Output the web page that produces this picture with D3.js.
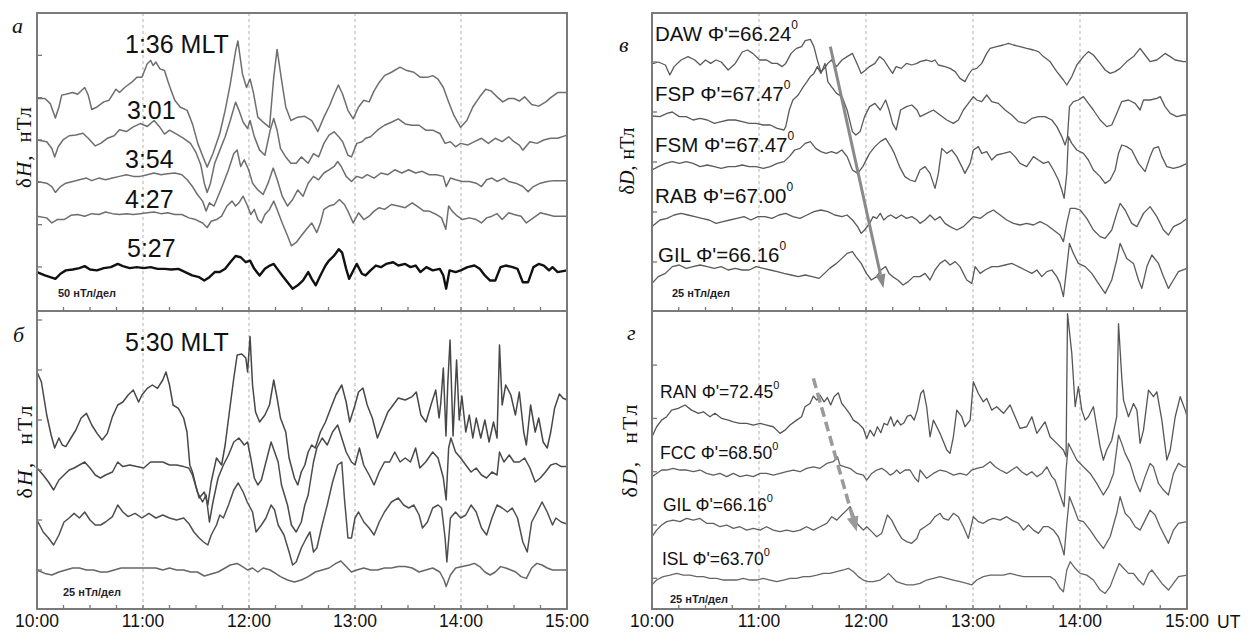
<!DOCTYPE html>
<html><head><meta charset="utf-8">
<script src="https://cdn.jsdelivr.net/npm/d3@7"></script>
<style>body{margin:0;background:#fff}svg{display:block}</style>
</head><body>
<svg id="c" width="1250" height="636"></svg>
<script>
// time in minutes after 10:00 UT, values in nT (with trace offsets)
const xTickLabels = ["10:00","11:00","12:00","13:00","14:00","15:00"];
const hourMinutes = [0,60,120,180,240,300];
const minorMinutes = [15,30,45,75,90,105,135,150,165,195,210,225,255,270,285];
const gridMinutes = [60,120,180,240];
const aTicks = [50,100,150,200,250,300];
const bTicks = [25,50,75,100,125,150];
const cTicks = [25,50,75,100,125];
const dTicks = [25,50,75,100,125];

// panel a: dH, 50 nT/div
const aH136 = [[0,249],[4.5,249],[7.5,243],[10.4,226],[12.4,239],[14,253],[16.3,254],[20.2,256],[23,254],[27,262],[29,253],[31,236],[34,239],[37.8,245],[40.8,247],[44.7,260],[46.7,256],[49.6,262],[53.5,268],[56.5,274],[59.4,274],[62.4,290],[64.3,294],[65.7,288],[67.3,292],[69.6,284],[72.2,282],[74,270],[76,258],[78,247],[81,239],[85,235],[88,219],[91,196],[94,180],[96.3,168],[99.6,184],[103.5,208],[106.5,235],[109.4,266],[112.4,305],[113.7,317],[116.3,278],[118.6,262],[120.6,272],[122.5,256],[125,227],[128,221],[131.6,215],[134,274],[135.9,307],[138.2,274],[140.8,239],[143.7,223],[147.6,227],[151.6,228],[155.5,223],[159,210],[162.4,227],[165.7,241],[168.2,254],[170.6,265],[173,254],[176,235],[179,225],[182,239],[185,247],[188,245],[190.8,258],[193.7,268],[196.7,276],[200.6,280],[205.5,286],[209.4,282],[213.3,280],[217,274],[221,274],[224,276],[227,272],[230,262],[233,245],[236,229],[239.8,215],[243.3,223],[246.7,239],[250.6,251],[254,260],[257,258],[260.4,251],[263.7,245],[267,249],[270,249],[273,246],[276,251],[280,242],[284,240],[288,245],[290.8,250],[294.7,256],[300,256]];
const aH301 = [[0,200],[5.5,198],[8.4,190],[10,180],[12,192],[14.7,200],[18.2,205],[22,206],[26,208],[29,202],[33,193],[36,196],[39.8,202],[43.7,205],[46.7,212],[50.6,210],[54.5,215.5],[58.4,219.4],[62.4,216],[66.3,223],[69.2,216],[72.2,207],[75,211.6],[79,207],[83,202],[86.9,196],[89.8,186],[92.7,170.7],[94.7,149],[96.3,138],[98.2,149],[100.6,172.6],[103.5,188],[106.5,203.8],[109.4,223],[112.4,244.7],[114.3,235],[116.7,221],[119.2,213.6],[120.6,223],[123,204],[126,188],[129,182],[132,211.6],[134,225.3],[135.9,211.6],[137.8,190],[140.8,180],[143.7,172.6],[146.7,172.6],[149.6,180],[153.5,172.6],[156.5,184],[159.4,180],[162.4,196],[165.3,205.7],[168.2,209.6],[170.8,203.8],[173,198],[176,182],[178,180],[181,196],[184,198],[186,202],[188.8,203.8],[192.7,211.6],[196.7,217.4],[200.6,221],[204.5,225],[208.4,219],[212.4,217.4],[216.3,217.4],[220,211.6],[224,211.6],[228,207.7],[231,196],[234,198],[236.9,192],[239.8,196],[243.7,194],[247.6,198],[251.6,202],[255.5,196],[259.4,202],[263.3,198],[267,203.8],[270,198],[273,194],[275,188],[279,198],[283,196],[286.8,200],[290.8,202],[294.7,202],[300,205.7]];
const aH354 = [[0,151],[5.5,149],[8.4,145],[10.4,138],[13.3,145],[16.3,149],[20.2,151],[24,153],[28,155],[31,152],[35,155],[38.8,153],[42.7,155],[46.7,157],[50.6,159],[54.5,157],[58.4,157],[62.4,159],[66.3,161],[70.2,159],[74,160],[78,161],[82,159],[85,153],[88,145],[90.8,135.6],[93.7,127.8],[95.7,116],[97.6,125.8],[100.2,122],[102.5,133.6],[105.5,149],[108.4,164.8],[111.4,184],[113.3,188],[115.3,168.7],[117.3,176.5],[119.8,164.8],[122,149],[125,141],[128,135.6],[130.8,149],[133.7,166.8],[136,153],[138.8,133.6],[141.8,122],[144.7,129.7],[147.6,141],[150.6,133.6],[153.5,149],[156.5,157],[159.4,153],[162.4,161],[165.3,164.8],[168.2,168.7],[170.2,174.6],[172.2,168.7],[175,157],[178,151],[181,157],[184,155],[186.9,159],[190.8,155],[194.7,161],[198.6,159],[202.5,164.8],[206.5,161],[210.4,164.8],[214.3,161],[218,163],[222,159],[226,159],[230,157],[231.6,145],[234,155],[237,153],[240.8,151],[244.7,151],[248.6,149],[251.6,145],[254.5,153],[257.5,155],[260.4,151],[264.3,155],[267,151],[271,149],[275,145],[278,139],[281,145],[284.9,149],[288.8,151],[292.7,152],[300,152]];
const aH427 = [[0,110],[5.5,108],[8.4,102],[11.4,106],[15.3,106],[19.2,111],[23,112],[27,110],[31,113],[35,112],[38.8,115],[42.7,113],[46.7,112],[50.6,113],[54.5,112],[58.4,113],[62.4,114],[66.3,115],[70.2,113],[74,114],[78,112],[82,112],[86,108],[89.8,106],[93.7,102],[96.3,96.6],[98.6,104],[101.6,106],[104.5,110],[107.5,122],[110.4,127.8],[112.4,122],[114.3,125.8],[116.7,133.6],[119.2,122],[121,112],[123,118],[125,106],[127,102],[129,112],[131.6,118],[134,127.8],[135.9,118],[138.8,102],[141.8,86.8],[144,75],[146.7,79],[149.6,86.8],[152.5,94.6],[155.5,102],[158.4,90.7],[160.4,102],[162.4,118],[165.3,122],[168.2,123.8],[171.2,129.7],[174,123.8],[176,116],[179,102],[182,114],[185,106],[188,110],[190.8,116],[193.7,120],[196.7,118],[200.6,123.8],[204.5,122],[208.4,120],[212.4,125.8],[216.3,120],[219,116],[222,116],[226,112],[229,108],[231.4,94.6],[233,122],[235,116],[238,110],[240.8,106],[244.7,108],[248.6,106],[251.6,102],[254.5,108],[257.5,110],[260.4,113],[263.3,106],[267,114],[270,112],[274,110],[277,102],[281,108],[284.9,114],[288.8,112],[292.7,110],[300,110]];
const aH527 = [[0,44],[4.5,40],[7.5,38],[10.4,36],[13.3,42],[16.3,46],[20.2,47],[24,48.6],[27,51],[30,47],[33.9,46],[37.8,48.6],[41.8,49.8],[45.7,53.6],[48.6,51],[52.5,48.6],[56.5,49.8],[60.4,48.6],[64.3,49.8],[68.2,47.8],[72.2,47.8],[76,47],[80,47.8],[83.9,44],[87.8,40],[91.8,38],[94.7,34],[97.6,38],[100.6,44],[103.5,44],[106.5,47.8],[109.4,55.6],[112.4,63],[115.3,61.5],[118.2,55.6],[120.6,57.5],[123,47.8],[126,40],[129,47.8],[131.8,51.7],[134,53.6],[136,47.8],[138.8,40],[141.8,32],[144.7,24.4],[147.6,28.3],[150.6,34.2],[153.5,44],[155.5,36],[157.8,28.3],[160.4,40],[163.3,51.7],[165.3,57.6],[168.2,63.4],[170.8,71],[172.7,67],[175,47.8],[176.7,36],[178.6,44],[181,53.6],[183.9,42],[186,40],[188.8,46],[191.8,51.7],[194.7,49.8],[197.6,53.6],[201.6,55.6],[204.5,51.7],[208.4,53.6],[211.4,49.8],[214.3,51.7],[217,44],[220.4,49.8],[224,46],[228,47.8],[230,40],[231.6,24.4],[233.5,46],[237,44],[239.8,46],[243.7,49.8],[247.6,51.7],[250.6,47.8],[253.5,40],[256.5,34],[259.4,34],[262.4,49.8],[265.3,51.7],[269.2,49.8],[272,47.8],[275,32],[278,32],[281,49.8],[284,53.6],[286.9,51.7],[289.8,46],[291.8,49.8],[294.7,44],[300,46]];

// panel b: dH, 25 nT/div
const bH1 = [[0,124],[2.5,119],[5.5,102.5],[8,92.5],[10,86],[12.4,91],[14.3,87.5],[16.3,86.7],[19.2,91],[22,95],[25,101],[28,103.3],[31,97.5],[34,93.3],[36.9,90],[39.8,93.3],[42.7,101.7],[45.7,107.5],[48.6,109],[51.6,112.5],[54.5,115],[57.5,109],[59.4,112.5],[62.4,115.8],[65.3,117.5],[68.2,115.8],[71.2,120],[73,124],[75,117.5],[77,107.5],[80,105.8],[83,101],[84.9,94],[86.5,77.5],[88,74],[89.8,67.5],[91.8,61],[94.7,64],[96.7,57.5],[98.6,69],[101.6,81],[104.5,77.5],[106.5,87.5],[109.4,107.5],[111.4,121],[113.3,132.5],[115.9,133],[118.2,131],[119.2,124],[120.6,141.7],[122,117.5],[123.7,104],[126,99],[129,102.5],[131.6,107.5],[134,120],[135.9,111],[137.8,101],[140.8,94],[142.7,81],[145.7,71],[147.6,67.5],[149.6,74],[151.6,77.5],[153.5,84],[155.5,87.5],[157.5,86],[160.4,94],[163.3,99],[166.3,106],[169.2,112.5],[172.5,117.5],[175,109],[177,99],[180,107.5],[182,114],[184.5,116],[186.9,107.5],[189.8,101],[192.7,91],[195.7,97.5],[198.6,104],[201.6,107.5],[204.5,111],[208.4,110],[212.4,111.7],[214.7,114],[217.3,102.5],[220.2,99],[223,107.5],[225.7,115],[227.6,101],[228.5,108],[230,126],[231.5,92],[232.5,118],[233.8,140],[235.5,92],[237.5,130],[239,100],[240.5,112],[242.7,94],[244.7,102.5],[246.7,91],[248.6,101],[251.2,91],[253.5,100],[255.9,89],[258.4,99],[260.4,91],[261.8,137.5],[263.3,107.5],[265.3,117.5],[268.2,112.5],[270.8,102.5],[273,114],[275.5,94],[277,87.5],[279.4,107.5],[282,94],[284,101],[286.5,89],[288.8,86],[290.8,94],[293,106],[295.7,113],[297.6,111],[300,110]];
const bH2 = [[0,76],[3.5,72.5],[6.5,69],[9.4,65],[12.4,70],[15.3,72.5],[18.2,75],[21,76],[24,77.5],[27,79],[30,76],[33,72.5],[35.9,71],[38.8,72.5],[42.7,74],[45.7,79],[48.6,76.7],[52.5,77.5],[56.5,76.7],[60.4,76],[64.3,79],[67.3,79],[71.2,79],[75,77.5],[79,77.5],[83,76.7],[85.9,76],[88,72.5],[90.8,64],[93.7,59],[95.7,62.5],[97.6,49],[99.6,59],[102.5,71],[105.5,77.5],[108.4,82.5],[111.4,89],[114.3,91],[117.3,87.5],[119.2,89],[121,81],[123,71],[125,67.5],[127,70],[129.6,79],[132.5,89],[134.5,84],[136.5,79],[138.4,67.5],[141.8,57.5],[144,47.5],[146.7,44],[149.6,49],[151.6,57.5],[153.5,62.5],[156.5,79],[158.4,86],[161.4,91],[164.3,87.5],[167.3,94],[170.2,97.5],[172.5,91],[175,84],[178,79],[180,77.5],[182.5,86],[184.9,77.5],[188,72.5],[190.8,67.5],[193.7,74],[196.7,79],[199.6,79],[202.5,84],[205.5,79],[208.4,81],[211.4,79],[214.3,86],[216.7,76],[220,79],[224,84],[227,81],[230,71],[231.6,60],[233,86],[234.3,91],[236.9,84],[239.8,81],[242.7,77.5],[245.7,74],[248.6,76],[251.6,72.5],[254.5,71],[257.5,74],[260.4,72.5],[261.8,84],[264.3,79],[267.3,82.5],[270,79],[273,79],[276,81],[279,76],[282,69],[284.9,71],[287.8,74],[290.8,77.5],[293.7,78.3],[296.7,76.7],[300,76.7]];
const bH3 = [[0,50],[3.5,44],[6.5,41],[9.4,37.5],[12.4,42.5],[15.3,49],[18.2,51],[21,53.3],[24,51],[27,54],[30,50],[33,47.5],[36,47.5],[38.8,49],[42.7,51.7],[45.7,57.5],[48.6,54],[51.6,51.7],[55.5,53.3],[59.4,51],[63.3,53.3],[67.3,51],[71.2,52.5],[75,51],[79,50],[83,51],[85.9,48.3],[88.8,44],[91.8,41],[94.3,39],[96.7,37.5],[98.6,42.5],[101.6,47.5],[103.5,52.5],[105.5,51],[108.4,57.5],[111.4,65],[113.9,68.5],[116.7,64],[119,59],[122,54],[124,44],[127,47.5],[129.6,51],[132.5,57.5],[134.5,55],[136.5,47.5],[139.8,42.5],[142.7,34],[144.7,27.5],[146.7,29],[149.6,36],[152.5,41],[154.5,44],[156.5,34],[158.4,36],[161.4,47.5],[164.3,57.5],[167.3,69],[170.2,77.5],[172.5,79],[174,61],[176,41],[178,41],[180,51],[182,54],[185,49],[188,46],[190.8,42.5],[193.7,49],[196.7,54],[200.6,59],[204.5,61],[207.5,57.5],[210.4,56],[213.3,57.5],[216.3,52.5],[218.2,46],[221,49],[224,56],[227,57.5],[229,56],[231,41],[232,29],[234,51],[236.9,54],[239.8,51],[242.7,52.5],[245.7,57.5],[248.6,54],[251.6,46],[254.5,42.5],[257.5,51],[260.4,57.5],[263.3,56],[266.3,54],[269,56],[272,51],[275,39],[277.5,34],[280,49],[283,54],[285.9,59],[288.8,54],[291.8,47.5],[293.7,51],[296.7,49],[300,48]];
const bH4 = [[0,25],[4.5,23.3],[8.4,22.5],[12.4,24],[16.3,25],[20.2,26],[24,26],[28,25],[32,25],[35.9,24],[39.8,24],[43.7,25],[47.6,26],[51.6,26],[55.5,26],[59.4,26],[63.3,26],[67.3,26],[71.2,25],[75,26],[79,25],[83,25],[87,24],[90.8,24],[94.7,22],[98.6,23],[102.5,24],[106.5,26],[109.4,27.5],[113.3,28.3],[116.3,26.7],[119.2,25],[122,26],[125,24],[128,26],[132,25],[135,23.3],[137.8,21.7],[141.8,20],[145.7,19],[149.6,20],[153.5,21.7],[157.5,24],[161.4,25],[165.3,26],[169.2,28.3],[172,29.5],[175,26.7],[178,24],[181,25],[185,26],[188.8,25],[192.7,25],[196.7,26],[200.6,26],[204.5,26.7],[208.4,26.7],[212.4,26],[216.3,24],[220,25],[224,26],[228,24],[230.4,20],[231.6,16.7],[234,22.5],[237,26],[240.8,26.7],[244.7,27.5],[247.6,28.3],[250.6,26.7],[253.5,24],[256.5,22.5],[259.4,24],[262.4,26.7],[265.3,26],[268.2,25],[271,24],[274,21.7],[277,20.8],[280,26],[282.9,28.3],[285.9,27.5],[288.8,26],[291.8,25],[293.7,25],[300,25]];

// panel v: dD, 25 nT/div
const vDAW = [[0,124],[3.5,125],[7.5,123.5],[10,118.5],[12.4,122.7],[16.3,126],[20.2,127.7],[24,126],[27,123.5],[30,126],[32.9,124.3],[35.9,126],[38.8,125],[42.7,121],[46.7,124.3],[50.6,130],[53.5,131],[56.5,129.3],[60.4,126],[64.3,126],[67.3,124.3],[70.2,124.3],[73,122.7],[75,124.3],[78,129.3],[81,131.8],[83.9,132.7],[85.9,135.7],[88.8,136.3],[90.8,132.7],[92.7,126],[94.7,120],[96.7,121.8],[98.6,124.3],[100.6,126],[103.5,122.7],[106.5,126],[109.4,127.7],[112.4,129.3],[115.3,123.5],[117.3,119.3],[119.8,121],[122,122.7],[125,124.3],[127.6,127.7],[130,126],[133,121.8],[134.9,119.3],[136.9,122.7],[139.8,121.8],[142.7,124.3],[145.7,123.5],[148.6,124.3],[150.3,125.2],[154,126],[156.8,125.2],[158.7,126],[160.6,123.5],[164.3,122.7],[167.1,121.8],[170,120.2],[172.7,116.8],[175.5,115.2],[177.4,118.5],[179.3,121],[182.1,121.8],[184.9,124.3],[187.7,129.3],[189.6,131.8],[193.3,132.7],[197,133.5],[199.9,134.3],[202.7,133.5],[206.4,132.7],[210.1,131.8],[213.9,131],[216.7,130.2],[219.5,127.7],[223.2,125.2],[227,120.2],[230.7,116],[232.6,113.5],[235.4,117.7],[238.2,123.5],[241.9,127.7],[244.7,130.2],[247.5,128.5],[251.3,124.3],[254.1,121],[256.9,119.3],[259.7,120.2],[262.5,121.8],[266.2,125.2],[270,127.7],[273.7,131.8],[276.5,128.5],[279.3,125.2],[283.1,126],[287.7,129.3],[290.6,127.7],[293.4,126],[298,125.2],[300,125.2]];
const vFSP = [[0,98],[4.5,97.7],[8.4,99.3],[11.4,100],[15.3,97.7],[19.2,97.7],[23,96],[27,96.8],[31,96],[35,94.3],[38.8,95.2],[42.7,96],[46.7,96],[50.6,95.2],[54.5,94.3],[58.4,94.3],[62.4,93.5],[66.3,93.5],[70.2,91.8],[74,91],[75,92.7],[77,101],[79,106],[82,108.5],[84.9,112.7],[86.9,115.2],[88.8,117.7],[90.8,119.3],[92.7,122.7],[94.7,119.3],[97,124.3],[98.6,115.2],[100.6,112.7],[103.5,109.3],[106.5,107.7],[109.4,101],[112.4,90.2],[114.3,88.5],[116.7,90.2],[119.2,97.7],[122,102.7],[125,104.3],[128,101],[131,106],[132.9,101],[134.9,94.3],[136.9,91],[139.4,101],[142.7,102.7],[145.7,103.5],[148.6,101],[150.3,97.7],[154,99.3],[157.8,101],[161.5,98.5],[165.3,96],[169,94.3],[171.8,96],[174.6,101],[177.4,104.3],[180.2,107.7],[182.1,106],[184.9,105.2],[187.7,108.5],[190.5,105.2],[194.2,104.3],[198,101],[201.7,98.5],[205.5,95.2],[209.2,94.3],[213,96.8],[216.7,97.7],[220.4,97.7],[224.2,96],[227,92.7],[229.8,87.7],[231.6,83.5],[233,87.7],[234.1,102.7],[236.3,105.2],[239.1,106],[241.9,107.7],[244.7,104.3],[247.5,101],[251.3,96],[255,92.7],[257.8,93.5],[260.6,99.3],[263.4,105.2],[267.2,106],[270.9,104.3],[273.7,101],[275.6,106],[279.3,106],[283.1,106.8],[285,107.7],[287.7,102.7],[290.6,99.3],[294.3,97.7],[298,98.5],[300,98.5]];
const vFSM = [[0,71],[3.5,72.7],[7.5,74.3],[11.4,75.2],[15.3,74.3],[19.2,75.2],[23,74.3],[27,72.7],[31,73.5],[35,72.7],[38.8,71.8],[42.7,72.7],[46.7,72.7],[50.6,73.5],[54.5,72.7],[58.4,72.7],[62.4,71.8],[66.3,72.7],[70.2,74.3],[74,75.2],[77,77.7],[80,81],[83,81.8],[85.9,84.3],[88.8,85.2],[91.8,81.8],[94.7,80.2],[97.6,79.3],[100.6,80.2],[103.5,79.3],[106.5,81],[109.4,77.7],[112.4,71],[115.3,69.3],[118.2,72.7],[122,79.3],[125,82.7],[128,85.2],[131,86.8],[133.9,82.7],[135.9,79.3],[138.8,72.7],[141.8,67.7],[144.7,66],[147.6,65.2],[150.3,71],[153.1,72.7],[155.9,69.3],[158.7,61.8],[160.6,69.3],[162.5,81.8],[165.3,79.3],[168.1,81],[170.9,77.7],[173.7,72.7],[175.5,69.3],[178.4,74.3],[180.2,81],[183,82.7],[184.9,79.3],[187.7,80.2],[190.5,76],[193.3,78.5],[197.1,79.3],[200.8,80.2],[203.6,77.7],[206.4,74.3],[210.1,72.7],[213.9,77.7],[216.7,76],[219.5,74.3],[222.3,75.2],[225.1,71],[227.9,66],[229.8,61],[231.1,56.8],[232.6,69.3],[233.5,87.7],[235.4,84.3],[238.2,81],[241.9,79.3],[244.7,76],[247.5,71],[251.3,67.7],[254.1,64.3],[256.9,66],[259.7,71],[261.6,79.3],[263.4,83.5],[266.2,82.7],[269,81],[272.8,74.3],[276.5,70.2],[279.3,77.7],[281.2,81.8],[284,82.7],[285.9,77.7],[288.7,72.7],[292.4,71.8],[296.2,72.7],[300,74.3]];
const vRAB = [[0,42.7],[4.5,46],[8.4,46.8],[12.4,48.5],[16.3,49.3],[20.2,48.5],[24,47.7],[28,46.8],[32,46],[35.9,44.3],[39.8,45.2],[43.7,46],[47.6,46.8],[51.6,47.7],[55.5,46],[59.4,47.7],[63.3,47.7],[67.3,46.8],[71.2,48.5],[75,49.3],[79,47.7],[83,46.8],[86.9,48.5],[90.8,50.2],[94.7,51],[98.6,50.2],[102.5,48.5],[106.5,47.7],[109.4,48.5],[112.4,46],[115.3,42.7],[117.3,39.3],[119.2,41],[122,44.3],[124,47.7],[126,46.8],[128,49.3],[130,46],[132,47.7],[133.9,48.5],[136.9,46.8],[139.8,48.5],[142.7,46.8],[145.7,47.7],[148.6,46],[150.3,44.3],[153.1,46],[155.9,48.5],[158.7,46],[161.5,47.7],[164.3,44.3],[167.1,42.7],[170.9,41],[174.6,42.7],[178.4,46],[180.2,47.7],[184,46.8],[187.7,49.3],[191.4,51],[195.2,48.5],[198.9,46],[202.7,44.3],[206.4,43.5],[210.1,44.3],[213.9,43.5],[217.6,45.2],[221.4,43.5],[225.1,41],[228.8,38.5],[230.7,35.2],[232.6,44.3],[234.5,51.8],[237.3,51.8],[240.1,51],[243.8,46.8],[247.5,41],[251.3,37.7],[254.1,36.8],[257.8,41],[260.6,49.3],[262.5,54.3],[265.3,51],[269,44.3],[271.9,42.7],[275.6,49.3],[279.3,52.7],[283.1,47.7],[286.8,41],[289.6,38.5],[292.4,42.7],[296.2,44.3],[300,46.8]];
const vGIL = [[0,14.3],[3.5,17.7],[7.5,19.3],[11.4,22.7],[15.3,23.5],[19.2,21.8],[23,22.7],[27,23.5],[31,22.7],[35,21.8],[38.8,22.7],[42.7,21],[46.7,21.8],[50.6,21],[54.5,21],[58.4,22.7],[62.4,21.8],[66.3,21],[70.2,20.2],[74,19.3],[78,18.5],[82,17.7],[85.9,18.5],[89.8,17.7],[93.7,16.8],[96.7,19.3],[99.6,21.8],[103.5,24.3],[106.5,26.8],[109.4,29.3],[112.4,30.2],[114.3,27.7],[117.3,24.3],[120.2,19.3],[123,16],[126,17.7],[128.4,21],[131,22.7],[132.9,19.3],[134.9,17.7],[137.8,16],[140.8,13.5],[143.7,15.2],[146.7,17.7],[150.3,17.7],[153.1,19.3],[155.9,16],[158.7,21],[161.5,24.3],[164.3,26],[167.1,23.5],[170,25.2],[172.7,22.7],[176.5,16],[179.3,14.3],[181.2,22.7],[184,19.3],[186.8,21],[190.5,22.7],[194.2,22.7],[198,23.5],[201.7,24.3],[205.5,22.7],[209.2,21],[213,19.3],[215.8,21],[218.6,17.7],[221.4,20.2],[224.2,21],[227,17.7],[228.8,14.3],[230.7,7.7],[232.2,19.3],[234.1,34.3],[236.3,29.3],[239.1,24.3],[242.9,22.7],[246.6,19.3],[250.3,14.3],[254.1,9.3],[257.8,16],[260.6,26],[262.5,34.3],[266.2,26.8],[270,24.3],[272.8,16],[274.7,11.8],[277.5,22.7],[280.3,28.5],[284,24.3],[286.8,17.7],[289.6,11.8],[292.4,16],[295.2,20.2],[300,21.8]];

// panel g: dD, 25 nT/div
const gRAN = [[0,91.4],[2.6,96.1],[5.4,99.2],[8.2,100.8],[11,103.9],[14.7,104.7],[18.5,106.3],[22.2,103.9],[26,102.4],[28.8,103.1],[32.5,100.8],[35.3,102.4],[39.1,100],[42.8,99.2],[45.6,98.4],[49.3,97.7],[53.1,97.7],[56.8,96.9],[60.6,97.7],[64.3,96.9],[68,96.1],[71.8,93],[74.6,94.5],[77.4,96.9],[81.1,99.2],[83.9,100.8],[85.8,105.5],[88.6,107],[90.5,110.5],[92.4,108.6],[94.2,111],[96.5,107.8],[98.3,109.8],[100.2,106.3],[102.1,110.2],[104.5,112],[106.4,107],[108.2,105.2],[110.7,102.4],[112.9,99.2],[115.7,97.7],[118.5,95.3],[120.4,90.6],[122.3,94.5],[124.5,91.7],[126.4,96.1],[128.3,93.3],[130.1,97.7],[132,96.9],[133.9,100.8],[135.7,96.4],[137.6,99.2],[139.5,96.9],[141.3,98],[143.2,101.1],[145.1,101.6],[147,99.2],[148.8,103.9],[150.7,111.7],[152.2,113.3],[154,105.5],[155.9,91.4],[157.8,99.2],[159.7,96.1],[161.5,93],[165.3,85.2],[167.1,83.6],[169,91.4],[170.9,103.9],[173.7,100.8],[175.5,96.1],[178.4,99.2],[180.2,117.2],[183,111.7],[185.8,107.8],[187.7,109.4],[190.5,103.9],[193.3,105.5],[197.1,102.4],[200.8,106.3],[203.6,100.8],[206.4,95.3],[210.1,96.1],[213,100.8],[215.8,93],[220.4,98.4],[223.2,91.4],[227,88.3],[230.7,85.2],[232.2,82],[233,149.2],[235.4,130.5],[237.3,105.5],[239.1,114.9],[241,103.9],[242.9,99.2],[244.7,100.8],[247.5,105.5],[249.4,96.1],[251.3,86.7],[253.1,80.5],[255,85.2],[257.8,89.8],[260.6,100.8],[261.6,144.5],[263.4,119.5],[264.4,108.6],[267.2,100.8],[270,107],[271.9,103.9],[273.7,88.3],[275.6,94.5],[278.4,113.3],[281.2,110.2],[283.1,112.5],[285.9,99.2],[288.7,80.5],[290.6,85.2],[293.4,100.8],[296.2,110.2],[299,103.9],[300,101]];
const gFCC = [[0,72.7],[2.6,74.2],[5.4,75.8],[8.2,75.8],[11.9,76.6],[15.7,75.8],[19.4,75.8],[23.2,75],[26.9,75.8],[30.6,74.2],[34.4,73.4],[38.1,74.2],[41.9,72.7],[45.6,74.2],[49.3,72.7],[53.1,73.4],[56.8,72.7],[60.6,74.2],[64.3,74.2],[68,73.4],[71.8,74.2],[75.5,75],[79.3,75.8],[83,75],[86.7,76.6],[90.5,77.3],[94.2,76.6],[98,78.9],[101.7,79.7],[104,82],[105.4,78.1],[108.2,77.3],[111,76.6],[114.8,74.2],[118.5,73.4],[120.4,71.1],[123.2,74.2],[126,75.8],[128.8,76.6],[131.6,75],[133.5,73.4],[135.4,74.2],[137.2,75.8],[139.1,74.2],[141.9,75.8],[144.7,75.8],[147.5,71.9],[149.4,70.3],[150.3,75.8],[154,71.9],[157.8,74.2],[161.5,75.8],[165.3,75],[169,73.4],[172.7,74.2],[176.5,73.4],[179.3,75.8],[182.1,76.6],[185.8,77.3],[189.6,79.7],[192.4,77.3],[195.2,75.8],[198.9,74.2],[201.7,75.8],[204.5,77.3],[207.3,75],[210.1,73.4],[213,75],[215.8,72.7],[218.6,74.2],[221.4,77.3],[224.2,72.7],[226,71.1],[227.9,66.4],[229.8,61.7],[231.1,58.6],[232.2,75.8],[233.5,88.3],[235.4,85.2],[238.2,80.5],[241.9,77.3],[245.7,74.2],[249.4,69.5],[253.1,64.1],[256,68],[258.8,74.2],[261.6,92.2],[263.4,88.3],[265.3,83.6],[268.1,78.9],[270.9,71.1],[273.7,65.6],[276.5,72.7],[279.3,78.9],[281.2,77.3],[284,69.5],[286.8,66.4],[289.6,64.1],[292.4,74.2],[295.2,78.9],[298,77.3],[300,77.3]];
const gGIL = [[0,44.5],[2.6,47.6],[5.4,50],[8.2,51.6],[11.9,52.3],[15.7,51.6],[19.4,53.1],[23.2,52.3],[26.9,53.1],[30.6,50.8],[34.4,50.8],[38.1,49.2],[41.9,50],[45.6,48.4],[49.3,49.2],[53.1,47.6],[56.8,48.4],[60.6,47.6],[64.3,49.2],[68,47.6],[71.8,46.9],[75.5,47.6],[79.3,46.9],[83,47.6],[86.7,49.2],[90.5,47.6],[94.2,49.2],[98,50.8],[100.8,53.9],[103.6,52.3],[106.4,54.7],[109.2,57],[111.1,58.6],[113,54.7],[114.8,50.8],[116.7,49.2],[118.5,47.6],[120.4,49.2],[123.2,46.9],[126,44.5],[128.8,46.1],[132,54.7],[134.4,52.3],[137.2,47.6],[140,43.7],[142.8,42.2],[145.6,41.4],[148.5,43.7],[150.3,47.6],[153.1,49.2],[155.9,50.8],[158.7,53.9],[161.5,55.5],[163.4,53.1],[166.2,52.3],[169,55.5],[171.8,53.9],[174.6,49.2],[177.4,43.7],[180.2,53.9],[183,51.6],[185.8,50.8],[188.6,52.3],[191.4,53.1],[195.2,52.3],[198.9,53.9],[201.7,52.3],[205.5,50.8],[208.3,47.6],[211.1,50],[213.9,47.6],[216.7,46.1],[219.5,49.2],[222.3,49.2],[225.1,47.6],[227.9,44.5],[229.8,39.8],[231.1,35.9],[232.6,50.8],[234.1,63.3],[236.3,58.6],[239.1,52.3],[241.9,51.6],[245.7,47.6],[249.4,43],[253.1,39],[256.9,44.5],[260.6,55.5],[262.5,63.3],[265.3,55.5],[268.1,53.1],[270.9,49.2],[273.7,47.6],[276.5,52.3],[279.3,57],[282.1,54.7],[284.9,49.2],[289.6,41.4],[292.4,47.6],[295.2,50.8],[300,51.6]];
const gISL = [[0,21.9],[2.6,24.2],[6.3,25.8],[10.1,26.5],[13.8,27.3],[17.6,26.5],[21.3,26.5],[25,25.8],[28.8,25.8],[32.5,25],[36.3,25],[40,24.2],[43.7,24.2],[47.5,24.2],[51.2,25],[55,24.2],[58.7,24.2],[62.4,25],[66.2,24.2],[69.9,23.4],[73.7,24.2],[77.4,25],[81.1,25],[84.9,25.8],[88.6,25.8],[92.4,26.5],[96.1,27.3],[99.8,27.3],[103.6,28.1],[107.3,28.9],[110.1,29.7],[113,28.1],[115.7,25.8],[118.5,24.2],[121.3,23.4],[124.1,23.4],[127.9,24.2],[130.7,25.8],[132.6,27.3],[134.4,25.8],[137.2,23.4],[140,22.6],[142.8,21.9],[146.6,21.9],[150.3,22.6],[154,24.2],[157.8,25],[161.5,25.8],[165.3,25],[169,24.2],[172.7,23.4],[176.5,22.6],[179.3,21.9],[182.1,24.2],[185.8,25.8],[189.6,26.5],[193.3,26.5],[197.1,26.5],[200.8,27.3],[204.5,26.5],[208.3,25.8],[212,25.8],[215.8,25.8],[219.5,25.8],[223.2,25.8],[226,24.2],[228.8,20.3],[230.7,18.7],[232.6,28.9],[234.5,32.8],[237.3,29.7],[240.1,27.3],[243.8,26.5],[247.5,24.2],[251.3,19.5],[254.1,17.9],[256.9,21.1],[259.7,27.3],[262,32],[264.4,29.7],[267.2,27.3],[270,27.3],[272.8,24.2],[275.6,21.9],[278.4,27.3],[280.3,28.9],[283.1,25.8],[285.9,22.6],[289.6,19.5],[292.4,22.6],[295.2,25.8],[300,26.5]];

// arrows (time, value) in panel coordinates
const arrowV = [[100,132.7],[129.8,11.9]];
const arrowG = [[90.5,118.8],[114.8,46.9]];

const svg = d3.select("#c");
const SANS = "'Liberation Sans', Arial, sans-serif";
const SERIF = "'Liberation Serif', 'Times New Roman', serif";

const panels = [
  {x0:37, x1:567, y0:13, y1:311, dom:[-2,350], ticks:aTicks,
   series:[{d:aH136,c:"#6e6e6e",w:1.5},{d:aH301,c:"#6e6e6e",w:1.5},{d:aH354,c:"#6e6e6e",w:1.5},{d:aH427,c:"#6e6e6e",w:1.5},{d:aH527,c:"#111",w:2.4}]},
  {x0:37, x1:567, y0:311, y1:609, dom:[5.5,154.5], ticks:bTicks, bottomLabels:true,
   series:[{d:bH1,c:"#474747",w:1.5},{d:bH2,c:"#4a4a4a",w:1.5},{d:bH3,c:"#4f4f4f",w:1.5},{d:bH4,c:"#666",w:1.5}]},
  {x0:652, x1:1187, y0:13, y1:311, dom:[0.5,149.5], ticks:cTicks,
   series:[{d:vDAW,c:"#5a5a5a",w:1.3},{d:vFSP,c:"#5a5a5a",w:1.3},{d:vFSM,c:"#5a5a5a",w:1.3},{d:vRAB,c:"#5a5a5a",w:1.3},{d:vGIL,c:"#5a5a5a",w:1.3}]},
  {x0:652, x1:1187, y0:311, y1:609, dom:[10.6,150.4], ticks:dTicks, bottomLabels:true,
   series:[{d:gRAN,c:"#555",w:1.3},{d:gFCC,c:"#5f5f5f",w:1.3},{d:gGIL,c:"#5f5f5f",w:1.3},{d:gISL,c:"#666",w:1.3}]}
];

panels.forEach(p => {
  p.x = d3.scaleLinear().domain([0,300]).range([p.x0,p.x1]);
  p.y = d3.scaleLinear().domain(p.dom).range([p.y1,p.y0]);
  const g = svg.append("g");
  g.selectAll("line.grid").data(gridMinutes).enter().append("line")
    .attr("x1",d=>p.x(d)).attr("x2",d=>p.x(d)).attr("y1",p.y0).attr("y2",p.y1)
    .attr("stroke","#c4c4c4").attr("stroke-width",1.3).attr("stroke-dasharray","3,3");
  const line = d3.line().x(d=>p.x(d[0])).y(d=>p.y(d[1]));
  p.series.forEach(s => {
    g.append("path").attr("d",line(s.d)).attr("fill","none")
      .attr("stroke",s.c).attr("stroke-width",s.w).attr("stroke-linejoin","round");
  });
  g.append("rect").attr("x",p.x0).attr("y",p.y0).attr("width",p.x1-p.x0).attr("height",p.y1-p.y0)
    .attr("fill","none").attr("stroke","#7a7a7a").attr("stroke-width",2);
  g.selectAll("line.yt").data(p.ticks).enter().append("line")
    .attr("x1",p.x0).attr("x2",p.x0+5).attr("y1",d=>p.y(d)).attr("y2",d=>p.y(d))
    .attr("stroke","#777").attr("stroke-width",1.3);
  g.selectAll("line.xt").data(hourMinutes.concat(minorMinutes)).enter().append("line")
    .attr("x1",d=>p.x(d)).attr("x2",d=>p.x(d)).attr("y1",p.y1).attr("y2",p.y1-4)
    .attr("stroke","#777").attr("stroke-width",1.3);
  if (p.bottomLabels) {
    g.selectAll("text.xl").data(hourMinutes).enter().append("text")
      .attr("x",d=>p.x(d)).attr("y",627).attr("text-anchor","middle")
      .attr("font-family",SANS).attr("font-size",17.5).attr("fill","#111")
      .text((d,i)=>xTickLabels[i]);
  }
});

function arrow(p, pts, dashed, color, width, L, W) {
  const a = [p.x(pts[0][0]), p.y(pts[0][1])], b = [p.x(pts[1][0]), p.y(pts[1][1])];
  const dx=b[0]-a[0], dy=b[1]-a[1], len=Math.hypot(dx,dy), ux=dx/len, uy=dy/len;
  const bx=b[0]-ux*L, by=b[1]-uy*L;
  svg.append("line").attr("x1",a[0]).attr("y1",a[1]).attr("x2",bx).attr("y2",by)
    .attr("stroke",color).attr("stroke-width",width).attr("stroke-dasharray",dashed?"10,5":null);
  svg.append("path").attr("d",`M${b[0]},${b[1]}L${bx-uy*W},${by+ux*W}L${bx+uy*W},${by-ux*W}Z`)
    .attr("fill",color);
}
arrow(panels[2], arrowV, false, "#8a8a8a", 3, 14, 5);
arrow(panels[3], arrowG, true, "#9a9a9a", 3.5, 15, 6);

function txt(x,y,s,size,opts={}) {
  return svg.append("text").attr("x",x).attr("y",y).attr("font-family",opts.family||SANS)
    .attr("font-size",size).attr("fill",opts.fill||"#111")
    .attr("font-weight",opts.weight||null).attr("font-style",opts.style||null).text(s);
}
txt(125,53,"1:36 MLT",25);
txt(127,119,"3:01",25);
txt(125,168,"3:54",25);
txt(125,208,"4:27",25);
txt(127,257,"5:27",25);
txt(125,351,"5:30 MLT",25);
txt(58,297,"50 нТл/дел",11,{weight:"bold",fill:"#2a1d2a"});
txt(63,596,"25 нТл/дел",11,{weight:"bold",fill:"#2a1d2a"});
txt(672,297,"25 нТл/дел",11,{weight:"bold",fill:"#1d1d2a"});
txt(670,603,"25 нТл/дел",11,{weight:"bold",fill:"#1d1d2a"});

function station(x,y,s,size,supSize,supDy) {
  const t = txt(x,y,s,size);
  t.append("tspan").attr("dy",supDy).attr("font-size",supSize).text("0");
}
station(655,41,"DAW Φ'=66.24",20.5,12,-12);
station(655,101,"FSP Φ'=67.47",20.5,12,-12);
station(655,152,"FSM Φ'=67.47",20.5,12,-12);
station(655,203,"RAB Φ'=67.00",20.5,12,-12);
station(658,262,"GIL Φ'=66.16",20.5,12,-12);
station(660,398,"RAN Φ'=72.45",17.5,11,-9);
station(660,459,"FCC Φ'=68.50",17.5,11,-9);
station(663,511,"GIL Φ'=66.16",17.5,11,-9);
station(662,565,"ISL Φ'=63.70",17.5,11,-9);

txt(12,33,"а",22,{family:SERIF,style:"italic"});
txt(13,342,"б",22,{family:SERIF,style:"italic"});
txt(619,52,"в",22,{family:SERIF,style:"italic"});
txt(627,340,"г",22,{family:SERIF,style:"italic"});

// rotated axis titles: size, letter spacing and gap before the unit
function ylab(x,yc,size,ls,gap,letter) {
  const t = svg.append("text").attr("transform",`translate(${x},${yc}) rotate(-90)`)
    .attr("text-anchor","middle").attr("font-family",SERIF).attr("font-size",size).attr("fill","#111")
    .attr("letter-spacing",ls);
  t.append("tspan").text("δ");
  t.append("tspan").attr("font-style","italic").text(letter);
  t.append("tspan").text(",");
  t.append("tspan").attr("dx",gap).text("нТл");
}
ylab(31,147,21,1,12,"H");
ylab(32,451,22,2,16,"H");
ylab(634,161,20,0,6,"D");
ylab(637,450,22,2,16,"D");

txt(1217,628,"UT",17.5);
</script>
</body></html>
